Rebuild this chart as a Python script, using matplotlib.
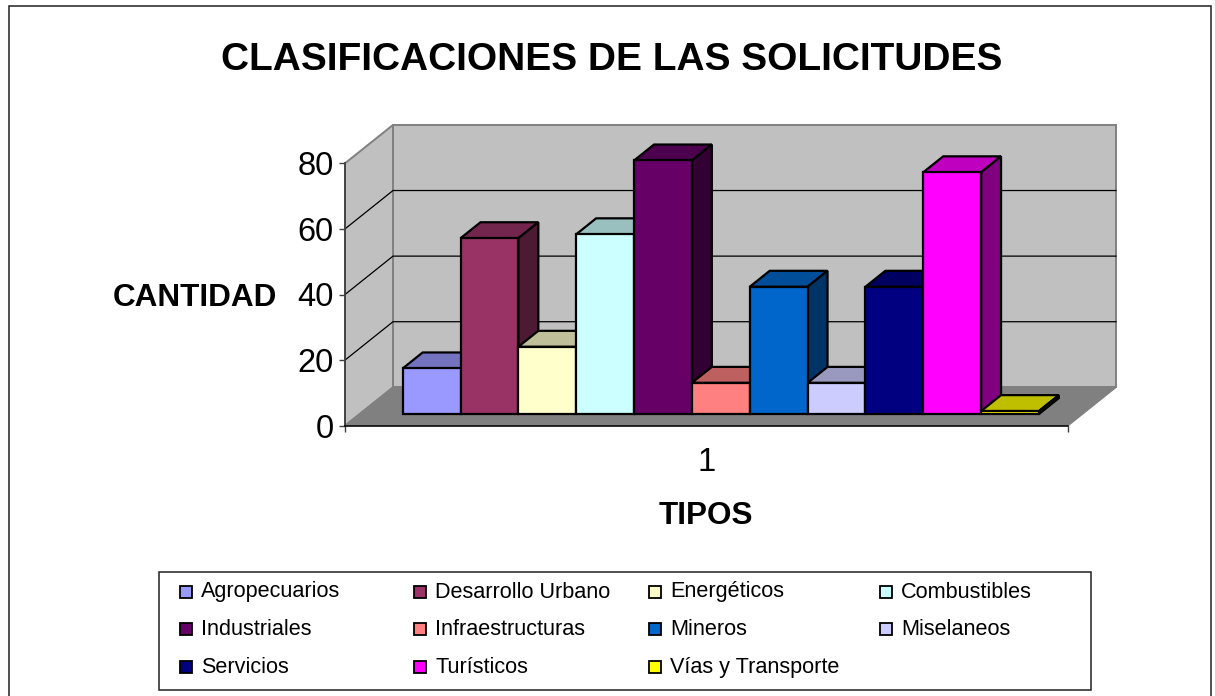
import matplotlib
matplotlib.use("Agg")
import matplotlib.pyplot as plt
from matplotlib.patches import Polygon, Rectangle

plt.rcParams['font.family'] = ['Liberation Sans', 'DejaVu Sans']

W, H = 1215, 696
categories = ["Agropecuarios", "Desarrollo Urbano", "Energéticos", "Combustibles",
              "Industriales", "Infraestructuras", "Mineros", "Miselaneos",
              "Servicios", "Turísticos", "Vías y Transporte"]
values = [13.9, 53.6, 20.5, 54.8, 77.3, 9.5, 38.8, 9.5, 38.8, 73.7, 0.9]
front_colors = ["#9999FF", "#993366", "#FFFFCC", "#CCFFFF", "#660066", "#FF8080",
                "#0066CC", "#CCCCFF", "#000080", "#FF00FF", "#FFFF00"]
top_colors = ["#7373BF", "#73264D", "#BFBF99", "#99BFBF", "#4D004D", "#BF6060",
              "#004D99", "#9999BF", "#000060", "#BF00BF", "#BFBF00"]
side_colors = ["#4D4D80", "#4D1A33", "#808066", "#668080", "#330033", "#804040",
               "#003366", "#666680", "#000040", "#800080", "#808000"]
yticks = [0, 20, 40, 60, 80]
category_labels = ["1"]

fig = plt.figure(figsize=(W / 100, H / 100), dpi=100, facecolor="white")

# frame of the chart area; its lower edge lies below the picture
fig.add_artist(Rectangle((9 / W, -10 / H), 1201.5 / W, (H + 10 - 6) / H, transform=fig.transFigure,
                         fill=False, edgecolor="#202020", linewidth=1.1))

# front plane of the plot box in pixels
L, R, Y0, Y80 = 345.0, 1068.0, 425.7, 163.3
ax = fig.add_axes([L / W, 1 - Y0 / H, (R - L) / W, (Y0 - Y80) / H])
ax.set_xlim(0, 1)
ax.set_ylim(0, 80)
ax.patch.set_visible(False)
for s in ["top", "right"]:
    ax.spines[s].set_visible(False)
ax.spines["left"].set_color("#404040")
ax.spines["left"].set_linewidth(1.3)
ax.spines["bottom"].set_color("black")
ax.spines["bottom"].set_linewidth(1.1)

DX, DV = 48.0 / (R - L), 11.7


def P(x, v, z):
    return (x + z * DX, v + z * DV)


def face(pts, fc, ec="black", lw=1.6, z=2):
    ax.add_patch(Polygon(pts, closed=True, facecolor=fc, edgecolor=ec, linewidth=lw,
                         zorder=z, clip_on=False, joinstyle="miter"))


WALL = "#C0C0C0"
WALL_EDGE = "#808080"
# walls and floor
face([P(0, 0, 1), P(1, 0, 1), P(1, 80, 1), P(0, 80, 1)], WALL, WALL_EDGE, 1.4, 1)
face([P(0, 0, 0), P(0, 0, 1), P(0, 80, 1), P(0, 80, 0)], WALL, WALL_EDGE, 1.4, 1)
face([P(0, 0, 0), P(1, 0, 0), P(1, 0, 1), P(0, 0, 1)], "#808080", "#808080", 1.0, 1.2)

# gridlines: along the left wall, then across the back wall
for t in yticks[1:-1]:
    a, b, c = P(0, t, 0), P(0, t, 1), P(1, t, 1)
    ax.plot([a[0], b[0], c[0]], [a[1], b[1], c[1]], color="black", lw=0.9, zorder=1.5,
            clip_on=False, solid_joinstyle="miter")

# bars
X0, BW = 0.0596, 0.08
Z0, Z1 = 0.305, 0.72
for i, v in enumerate(values):
    x0 = X0 + i * BW
    x1 = x0 + BW
    zo = 3 + i * 0.1
    face([P(x0, v, Z0), P(x1, v, Z0), P(x1, v, Z1), P(x0, v, Z1)], top_colors[i], z=zo)
    face([P(x1, 0, Z0), P(x1, 0, Z1), P(x1, v, Z1), P(x1, v, Z0)], side_colors[i], z=zo)
    face([P(x0, 0, Z0), P(x1, 0, Z0), P(x1, v, Z0), P(x0, v, Z0)], front_colors[i], z=zo + 0.01)

# ticks
ax.set_yticks(yticks)
ax.tick_params(axis="y", length=4.5, width=1.0, color="#404040", labelsize=23.5, pad=3.5)
ax.set_xticks([0, 1])
ax.set_xticklabels(["", ""])
ax.set_xticks([0.5], minor=True)
ax.set_xticklabels(category_labels, minor=True)
ax.tick_params(axis="x", which="major", length=4.5, width=1.0, color="#404040")
ax.tick_params(axis="x", which="minor", length=0, labelsize=23.5, pad=15)

fig.text(612 / W, 1 - 59.5 / H, "CLASIFICACIONES DE LAS SOLICITUDES", ha="center", va="center",
         fontsize=28, fontweight="bold")
fig.text(194.5 / W, 1 - 298 / H, "CANTIDAD", ha="center", va="center", fontsize=22.7, fontweight="bold")
fig.text(706 / W, 1 - 516 / H, "TIPOS", ha="center", va="center", fontsize=22.7, fontweight="bold")

# legend: swatches and names on Excel's fixed grid
lx0, lx1, ly0, ly1 = 159, 1091, 572, 690
fig.add_artist(Rectangle((lx0 / W, 1 - ly1 / H), (lx1 - lx0) / W, (ly1 - ly0) / H,
                         transform=fig.transFigure, facecolor="white", edgecolor="#202020",
                         linewidth=1.1))
col_x = [180, 414, 649, 880]
row_y = [591.5, 629, 667]
for i, name in enumerate(categories):
    r, c = divmod(i, 4)
    fig.add_artist(Rectangle((col_x[c] / W, 1 - (row_y[r] + 6) / H), 12 / W, 12 / H,
                             transform=fig.transFigure, facecolor=front_colors[i],
                             edgecolor="black", linewidth=1.3))
    fig.text((col_x[c] + 21) / W, 1 - (row_y[r] + 0.5) / H, name, ha="left", va="center", fontsize=15.6)

fig.savefig("out.png", dpi=100)
